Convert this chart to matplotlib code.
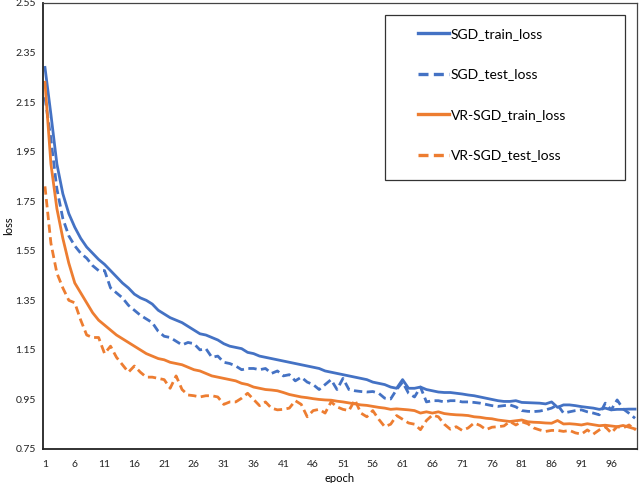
import matplotlib
matplotlib.use("Agg")
import matplotlib.pyplot as plt
from matplotlib.patches import Rectangle
import numpy as np

epochs = list(range(1, 101))
xtick_labels = [str(e) for e in range(1, 100, 5)]
yticks = [0.75, 0.95, 1.15, 1.35, 1.55, 1.75, 1.95, 2.15, 2.35, 2.55]

sgd_train_loss = [
    2.29, 2.10, 1.90, 1.78, 1.70, 1.645, 1.60, 1.565, 1.54, 1.515,
    1.495, 1.47, 1.445, 1.42, 1.40, 1.375, 1.36, 1.35, 1.335, 1.31,
    1.295, 1.28, 1.27, 1.26, 1.245, 1.23, 1.215, 1.21, 1.20, 1.19,
    1.175, 1.165, 1.16, 1.155, 1.14, 1.135, 1.125, 1.12, 1.115, 1.11,
    1.105, 1.10, 1.095, 1.09, 1.085, 1.08, 1.075, 1.065, 1.06, 1.055,
    1.05, 1.045, 1.04, 1.035, 1.03, 1.02, 1.015, 1.01, 1.0, 0.995,
    1.03, 0.995, 0.995, 1.0, 0.99, 0.985, 0.98, 0.978, 0.978, 0.975,
    0.972, 0.968, 0.965, 0.96, 0.955, 0.95, 0.945, 0.942, 0.942, 0.945,
    0.938, 0.937, 0.936, 0.935, 0.932, 0.94, 0.918, 0.928, 0.928, 0.925,
    0.921, 0.918, 0.915, 0.91, 0.915, 0.908, 0.91, 0.91, 0.911, 0.911,
]
sgd_test_loss = [
    2.17, 2.00, 1.80, 1.68, 1.61, 1.57, 1.54, 1.52, 1.49, 1.47,
    1.47, 1.40, 1.38, 1.36, 1.33, 1.31, 1.29, 1.275, 1.26, 1.225,
    1.205, 1.20, 1.185, 1.17, 1.18, 1.175, 1.15, 1.155, 1.12, 1.125,
    1.10, 1.095, 1.085, 1.07, 1.075, 1.075, 1.07, 1.075, 1.055, 1.065,
    1.045, 1.05, 1.025, 1.04, 1.02, 1.01, 0.99, 1.01, 1.03, 0.99,
    1.035, 0.99, 0.985, 0.982, 0.98, 0.982, 0.975, 0.955, 0.952, 0.99,
    1.02, 0.975, 0.96, 1.0, 0.94, 0.945, 0.945, 0.94, 0.945, 0.945,
    0.94, 0.94, 0.938, 0.935, 0.93, 0.925, 0.922, 0.925, 0.928, 0.92,
    0.905, 0.902, 0.901, 0.903, 0.908, 0.915, 0.928, 0.895, 0.90, 0.905,
    0.908, 0.90, 0.895, 0.888, 0.935, 0.908, 0.948, 0.912, 0.894, 0.874,
]
vr_sgd_train_loss = [
    2.23, 1.90, 1.72, 1.60, 1.50, 1.42, 1.38, 1.34, 1.30, 1.27,
    1.25, 1.23, 1.21, 1.195, 1.18, 1.165, 1.15, 1.135, 1.125, 1.115,
    1.11, 1.10, 1.095, 1.09, 1.08, 1.07, 1.065, 1.055, 1.045, 1.04,
    1.035, 1.03, 1.025, 1.015, 1.01, 1.0, 0.995, 0.99, 0.988, 0.985,
    0.978, 0.97, 0.965, 0.96, 0.957, 0.953, 0.95, 0.948, 0.947, 0.943,
    0.94, 0.936, 0.932, 0.928, 0.926, 0.922, 0.918, 0.915, 0.91, 0.912,
    0.91, 0.908, 0.905, 0.895, 0.90, 0.895, 0.90, 0.893, 0.89, 0.888,
    0.887, 0.885, 0.88, 0.878, 0.874, 0.872, 0.867, 0.864, 0.861, 0.864,
    0.867, 0.86, 0.858, 0.857, 0.855, 0.854, 0.865, 0.851, 0.852, 0.85,
    0.847, 0.852, 0.848, 0.844, 0.846, 0.843, 0.84, 0.845, 0.838, 0.831,
]
vr_sgd_test_loss = [
    1.81, 1.58, 1.46, 1.40, 1.35, 1.34, 1.27, 1.21, 1.20, 1.20,
    1.135, 1.165, 1.12, 1.09, 1.06, 1.085, 1.06, 1.04, 1.04, 1.035,
    1.03, 0.995, 1.045, 0.99, 0.968, 0.965, 0.96, 0.965, 0.965, 0.96,
    0.93, 0.94, 0.94, 0.955, 0.975, 0.95, 0.925, 0.94, 0.915, 0.908,
    0.91, 0.915, 0.945, 0.93, 0.88, 0.905, 0.91, 0.895, 0.94, 0.92,
    0.91, 0.905, 0.948, 0.895, 0.88, 0.905, 0.87, 0.84, 0.85, 0.885,
    0.87, 0.855, 0.85, 0.828, 0.865, 0.887, 0.88, 0.85, 0.83, 0.84,
    0.825, 0.835, 0.855, 0.845, 0.828, 0.838, 0.84, 0.843, 0.861, 0.847,
    0.86, 0.852, 0.835, 0.827, 0.821, 0.825, 0.825, 0.821, 0.825, 0.815,
    0.81, 0.827, 0.81, 0.827, 0.84, 0.815, 0.84, 0.835, 0.847, 0.827,
]

series_names = ["SGD_train_loss", "SGD_test_loss", "VR-SGD_train_loss", "VR-SGD_test_loss"]
blue = "#4472C4"
orange = "#ED7D31"

plt.rcParams['font.family'] = ['Lato', 'DejaVu Sans']

fig = plt.figure(figsize=(6.4, 4.83), dpi=100)
ax = fig.add_axes([43/640, 34/483, 594/640, 446/483])

dash = (0, (3.0, 1.6))
ax.plot(epochs, sgd_train_loss, color=blue, lw=2.0, label=series_names[0])
ax.plot(epochs, sgd_test_loss, color=blue, lw=2.0, linestyle=dash, label=series_names[1])
ax.plot(epochs, vr_sgd_train_loss, color=orange, lw=2.0, label=series_names[2])
ax.plot(epochs, vr_sgd_test_loss, color=orange, lw=2.0, linestyle=dash, label=series_names[3])

ax.set_xlim(0.67, 100.33)
ax.set_ylim(0.75, 2.55)
ax.set_yticks(yticks)
ax.set_yticklabels([f"{v:.2f}" for v in yticks])
ax.set_xticks(list(range(1, 100, 5)))
ax.set_xticklabels(xtick_labels)
ax.tick_params(axis='both', length=0, labelsize=7.5, colors='#222222')
ax.tick_params(axis='x', pad=8)
ax.tick_params(axis='y', pad=5)

for side in ['left', 'bottom']:
    ax.spines[side].set_color('#222222')
    ax.spines[side].set_linewidth(1.3)
for side in ['top', 'right']:
    ax.spines[side].set_color('#444444')
    ax.spines[side].set_linewidth(0.9)

ax.set_xlabel("epoch", fontsize=8, labelpad=3)
ax.set_ylabel("loss", fontsize=8, va='center')
ax.yaxis.set_label_coords((9 - 43) / 594, 0.5)

# legend box
bx0 = (385 - 43) / 594
by0 = (449 - 180) / 446
bw = (625 - 385) / 594
bh = (180 - 15) / 446
ax.add_patch(Rectangle((bx0, by0), bw, bh, transform=ax.transAxes,
                       facecolor='white', edgecolor='#333333', lw=0.9, zorder=5))
leg = ax.legend(loc='upper left', bbox_to_anchor=((418 - 43) / 594, (449 - 28) / 446),
                frameon=False, fontsize=10, handlelength=2.2, handletextpad=0.15,
                labelspacing=2.05, borderpad=0.0, borderaxespad=0.0)
leg.set_zorder(6)
for line in leg.get_lines():
    line.set_linewidth(2.4)

fig.savefig("out.png", dpi=100)
